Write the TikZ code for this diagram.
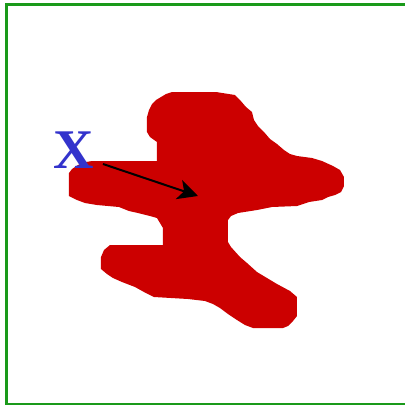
\documentclass[tikz,border=0pt]{standalone}
\usepackage{fontspec}
\setmainfont{Liberation Serif}
\usetikzlibrary{arrows.meta}
\definecolor{blobred}{RGB}{204,0,0}
\definecolor{framegreen}{RGB}{26,154,26}
\definecolor{labelblue}{RGB}{51,51,204}
\tikzset{
  frame/.style={draw=framegreen, line width=1.6pt},
  blob/.style={fill=blobred, draw=none},
  lbl/.style={text=labelblue, font=\bfseries\fontsize{42}{42}\selectfont, inner sep=0pt, anchor=base},
  pointer/.style={draw=black, line width=1.5pt, -{Stealth[length=15pt, width=15pt, inset=4pt]}}
}
\begin{document}
\begin{tikzpicture}[x=0.75pt, y=-0.75pt]
\useasboundingbox (0,0) rectangle (405,405);
\draw[frame] (6.5,4.5) rectangle (420,404);
\fill[blob] (172,92) -- (216,92) -- (235,95) -- (240,100) -- (246,107) -- (252,112) -- (254,120) -- (258,126) -- (264,132) -- (270,139) -- (277,144) -- (284,150) -- (290,154) -- (297,156) -- (312,158) -- (322,161) -- (333,166) -- (340,170) -- (344,177) -- (344,186) -- (341,192) -- (335,195) -- (328,197) -- (322,200) -- (309,202) -- (297,206) -- (272,207) -- (257,210) -- (238,213) -- (231,216) -- (228,220) -- (228,242) -- (231,247) -- (240,257) -- (247,263) -- (257,272) -- (267,278) -- (277,284) -- (290,291) -- (297,297) -- (297,316) -- (293,321) -- (288,326) -- (283,328) -- (253,328) -- (245,325) -- (237,320) -- (228,314) -- (220,308) -- (213,304) -- (205,301) -- (188,299) -- (154,297) -- (144,292) -- (135,287) -- (122,282) -- (113,278) -- (107,274) -- (101,269) -- (101,257) -- (104,250) -- (110,245) -- (163,245) -- (163,228) -- (160,223) -- (157,218) -- (150,216) -- (138,213) -- (129,211) -- (119,207) -- (97,205) -- (85,203) -- (77,200) -- (69,196) -- (69,173) -- (72,169) -- (78,165) -- (86,162) -- (92,161) -- (157,161) -- (157,142) -- (150,137) -- (147,132) -- (147,117) -- (149,110) -- (152,104) -- (156,100) -- (161,97) -- (166,94) -- cycle;
\node[lbl] (xlabel) at (73.5,168) {X};
\coordinate (tail) at (103,164);
\coordinate (tip) at (198,196);
\draw[pointer] (tail) -- (tip);
\end{tikzpicture}
\end{document}
